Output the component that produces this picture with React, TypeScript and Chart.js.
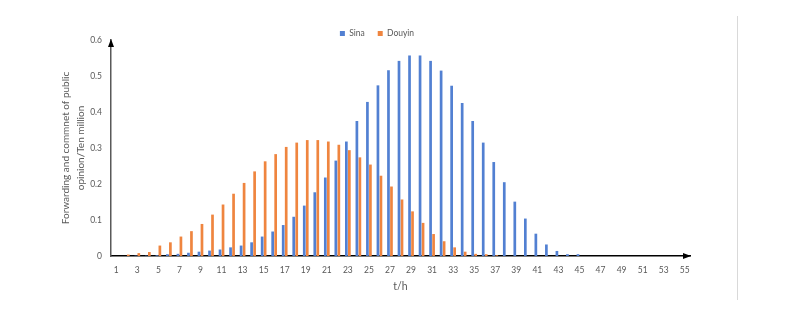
import React, { useEffect, useRef } from 'react';
import { Chart, registerables } from 'chart.js';

Chart.register(...registerables);

const categories = [
  '1', '2', '3', '4', '5', '6', '7', '8', '9', '10',
  '11', '12', '13', '14', '15', '16', '17', '18', '19', '20',
  '21', '22', '23', '24', '25', '26', '27', '28', '29', '30',
  '31', '32', '33', '34', '35', '36', '37', '38', '39', '40',
  '41', '42', '43', '44', '45', '46', '47', '48', '49', '50',
  '51', '52', '53', '54', '55',
];

const sinaValues = [
  0, 0, 0.001, 0.001, 0.002, 0.005, 0.006, 0.009, 0.012, 0.015,
  0.018, 0.024, 0.029, 0.038, 0.054, 0.068, 0.086, 0.109, 0.14, 0.177,
  0.218, 0.265, 0.318, 0.375, 0.428, 0.474, 0.516, 0.542, 0.557, 0.557,
  0.542, 0.515, 0.473, 0.425, 0.375, 0.315, 0.261, 0.205, 0.151, 0.104,
  0.062, 0.032, 0.014, 0.005, 0.005, 0, 0, 0, 0, 0,
  0, 0, 0, 0, 0,
];

const douyinValues = [
  0, 0.004, 0.008, 0.011, 0.029, 0.038, 0.054, 0.069, 0.089, 0.115,
  0.143, 0.173, 0.203, 0.235, 0.263, 0.283, 0.303, 0.315, 0.322, 0.322,
  0.318, 0.309, 0.294, 0.274, 0.254, 0.223, 0.193, 0.157, 0.124, 0.092,
  0.061, 0.041, 0.024, 0.012, 0.006, 0.005, 0.002, 0, 0, 0,
  0, 0, 0, 0, 0, 0, 0, 0, 0, 0,
  0, 0, 0, 0, 0,
];

const seriesNames = ['Sina', 'Douyin'];
const yTitle = ['Forwarding and commnet of public', 'opinion/Ten million'];
const xTitle = 't/h';

const FONT = 'Lato';
const TEXT = '#595959';

const decorPlugin = {
  id: 'decor',
  afterDraw(chart: any) {
    const { ctx, chartArea } = chart;
    const { left, right, top, bottom } = chartArea;
    ctx.save();
    ctx.fillStyle = '#000000';
    // y-axis arrow head
    ctx.beginPath();
    ctx.moveTo(left, top - 1);
    ctx.lineTo(left - 3, top + 7);
    ctx.lineTo(left + 3, top + 7);
    ctx.closePath();
    ctx.fill();
    // x-axis arrow head
    ctx.beginPath();
    ctx.moveTo(right + 1, bottom);
    ctx.lineTo(right - 7, bottom - 3);
    ctx.lineTo(right - 7, bottom + 3);
    ctx.closePath();
    ctx.fill();
    // light frame line on the right
    ctx.strokeStyle = '#d9d9d9';
    ctx.lineWidth = 1;
    ctx.beginPath();
    ctx.moveTo(729.5, 8);
    ctx.lineTo(729.5, 292);
    ctx.stroke();
    ctx.restore();
  },
};

export default function App() {
  const canvasRef = useRef<HTMLCanvasElement | null>(null);

  useEffect(() => {
    if (!canvasRef.current) return;
    const chart = new Chart(canvasRef.current, {
      type: 'bar',
      data: {
        labels: categories,
        datasets: [
          {
            label: seriesNames[0],
            data: sinaValues,
            backgroundColor: '#5280d2',
            borderWidth: 0,
            categoryPercentage: 0.57,
            barPercentage: 0.9,
          },
          {
            label: seriesNames[1],
            data: douyinValues,
            backgroundColor: '#ef853f',
            borderWidth: 0,
            categoryPercentage: 0.57,
            barPercentage: 0.9,
          },
        ],
      },
      options: {
        responsive: false,
        animation: false,
        layout: { padding: { top: 8.25, bottom: 17, left: 0, right: 0 } },
        plugins: {
          legend: {
            position: 'top',
            align: 'center',
            maxHeight: 23.75,
            labels: {
              boxWidth: 5,
              boxHeight: 5,
              padding: 13,
              color: TEXT,
              font: { family: FONT, size: 8.5 },
            },
          },
          tooltip: { enabled: false },
        },
        scales: {
          x: {
            grid: { display: false, drawTicks: false },
            border: { display: true, color: '#000000', width: 1.5 },
            ticks: {
              autoSkip: false,
              maxRotation: 0,
              padding: 9,
              color: TEXT,
              font: { family: FONT, size: 8.5 },
              callback: (_v: any, i: number) => (i % 2 === 0 ? categories[i] : ''),
            },
            title: {
              display: true,
              text: xTitle,
              color: TEXT,
              font: { family: FONT, size: 10.5 },
              padding: { top: 0, bottom: 3 },
            },
            afterFit: (s: any) => {
              s.height = 40;
            },
          },
          y: {
            min: 0,
            max: 0.6,
            grid: { display: false, drawTicks: false },
            border: { display: true, color: '#595959', width: 1.5 },
            ticks: {
              stepSize: 0.1,
              padding: 9,
              color: TEXT,
              font: { family: FONT, size: 8.5 },
            },
            title: {
              display: true,
              text: yTitle,
              color: TEXT,
              font: { family: FONT, size: 10, lineHeight: 1.5 },
              padding: { top: 50.5, bottom: 0 },
            },
            afterFit: (s: any) => {
              s.width = 103;
            },
          },
          yR: {
            type: 'linear',
            position: 'right',
            display: true,
            grid: { display: false, drawTicks: false },
            border: { display: false },
            ticks: { display: false },
            afterFit: (s: any) => {
              s.width = 56;
            },
          },
        },
      } as any,
      plugins: [decorPlugin],
    });
    return () => chart.destroy();
  }, []);

  return (
    <div style={{ width: 738, height: 305 }}>
      <canvas ref={canvasRef} width={738} height={305} />
    </div>
  );
}
